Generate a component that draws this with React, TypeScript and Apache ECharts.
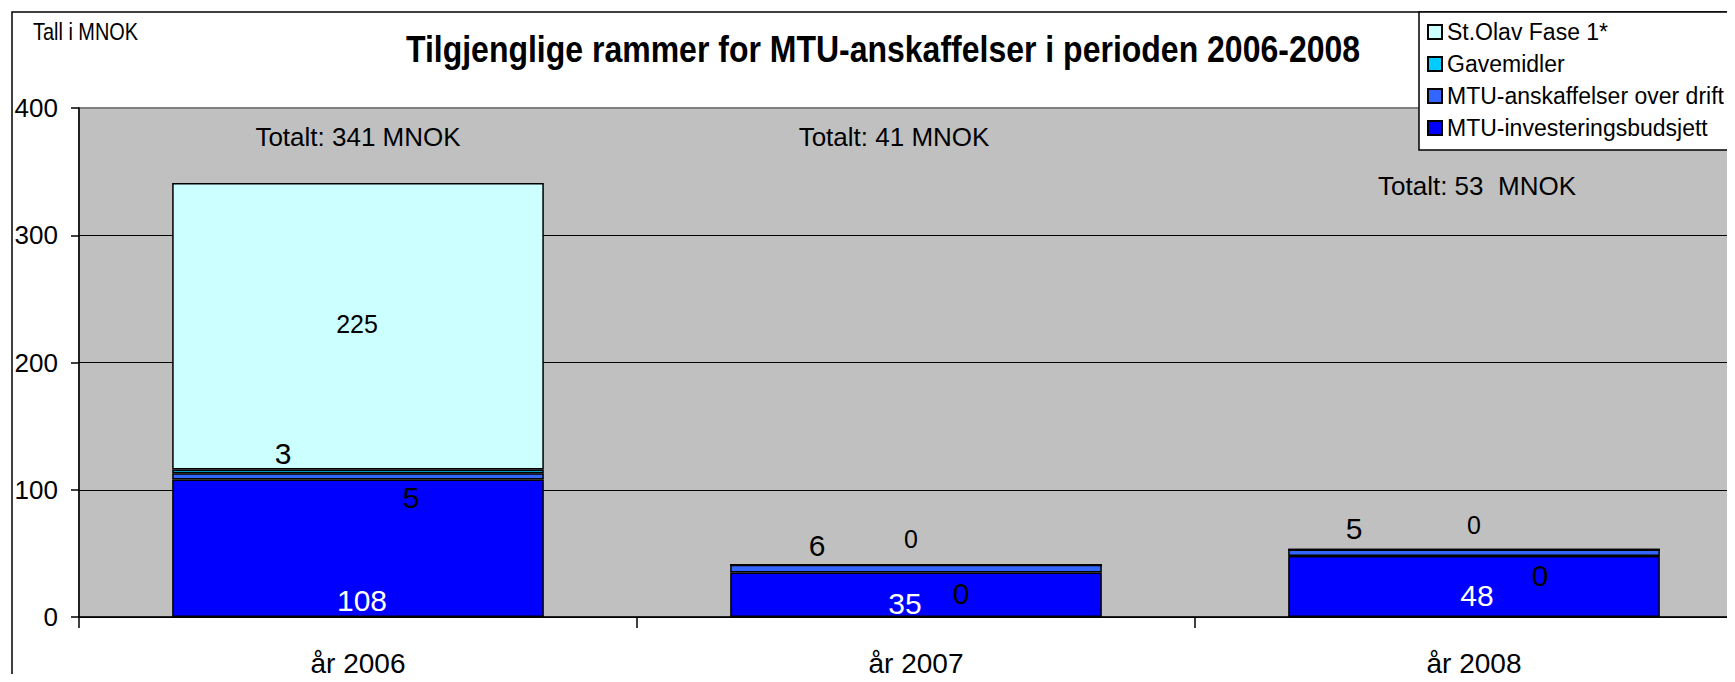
import React, { useEffect, useRef } from "react";
import * as echarts from "echarts";

const categories = ["år 2006", "år 2007", "år 2008"];
const investValues = [108, 35, 48];
const driftValues = [5, 6, 5];
const gaveValues = [3, 0, 0];
const stOlavValues = [225, 0, 0];
const yTicks = { min: 0, max: 400, interval: 100 };
const totalTexts = ["Totalt: 341 MNOK", "Totalt: 41 MNOK", "Totalt: 53  MNOK"];
const titleText = "Tilgjenglige rammer for MTU-anskaffelser i perioden 2006-2008";
const unitText = "Tall i MNOK";
const seriesNames = [
  "MTU-investeringsbudsjett",
  "MTU-anskaffelser over drift",
  "Gavemidler",
  "St.Olav Fase 1*",
];

// label offsets (layout only)
const investOffsets = [[4, 52], [-11, 9], [3, 9]];
const driftOffsets = [[53, 21], [-99, -23], [-120, -24]];
const gaveOffsets = [[-75, -18], [45, 29], [66, 26]];
const stOlavOffsets = [[-1, -2], [-5, -26], [0, -25]];

const SANS = "'Liberation Sans', Arial, sans-serif";

function mkData(values: number[], offsets: number[][], fontSize: number, color: string) {
  return values.map((v, i) => ({
    value: v,
    label: {
      show: true,
      position: "inside",
      offset: offsets[i],
      fontSize,
      color,
      fontFamily: SANS,
    },
  }));
}

export default function App() {
  const ref = useRef<HTMLDivElement>(null);
  useEffect(() => {
    if (!ref.current) return;
    const chart = echarts.init(ref.current, null, { renderer: "svg" });
    const border = { borderColor: "#000", borderWidth: 1.5 };
    const totalStyle = { fontFamily: SANS, fontSize: 26, fill: "#000", align: "center", verticalAlign: "middle" };
    chart.setOption({
      animation: false,
      backgroundColor: "#fff",
      legend: {
        orient: "vertical",
        left: 1419,
        top: 12,
        data: [seriesNames[3], seriesNames[2], seriesNames[1], seriesNames[0]],
        icon: "rect",
        itemWidth: 14,
        itemHeight: 14,
        itemGap: 4,
        padding: [6, 60, 8, 8],
        backgroundColor: "#fff",
        borderColor: "#000",
        borderWidth: 1.5,
        borderRadius: 0,
        textStyle: { fontFamily: SANS, fontSize: 23, color: "#000", lineHeight: 28 },
      },
      grid: {
        left: 79,
        top: 108,
        width: 1674,
        height: 509,
        show: true,
        backgroundColor: "#C0C0C0",
        borderColor: "#808080",
        borderWidth: 2,
      },
      xAxis: {
        type: "category",
        data: categories,
        axisLine: { lineStyle: { color: "#000", width: 1.5 } },
        axisTick: { show: true, length: 11, lineStyle: { color: "#000", width: 1.5 } },
        axisLabel: { fontFamily: SANS, fontSize: 28, color: "#000", margin: 32 },
      },
      yAxis: {
        type: "value",
        min: yTicks.min,
        max: yTicks.max,
        interval: yTicks.interval,
        axisLine: { show: true, lineStyle: { color: "#000", width: 1.5 } },
        axisTick: { show: true, length: 8, lineStyle: { color: "#000", width: 1.5 } },
        axisLabel: { fontFamily: SANS, fontSize: 26, color: "#000", margin: 21 },
        splitLine: { show: true, showMaxLine: false, lineStyle: { color: "#000", width: 1.2 } },
      },
      graphic: [
        {
          type: "rect",
          shape: { x: 12, y: 12, width: 1900, height: 900 },
          style: { fill: "none", stroke: "#000", lineWidth: 1.5 },
          z: -1,
        },
        {
          type: "text",
          x: 33,
          y: 32,
          scaleX: 0.83,
          style: { text: unitText, fontFamily: SANS, fontSize: 24, fill: "#000", verticalAlign: "middle" },
        },
        {
          type: "text",
          x: 883,
          y: 49,
          scaleX: 0.865,
          style: {
            text: titleText,
            fontFamily: SANS,
            fontWeight: "bold",
            fontSize: 37,
            fill: "#000",
            align: "center",
            verticalAlign: "middle",
          },
        },
        { type: "text", x: 358, y: 137, style: { text: totalTexts[0], ...totalStyle } },
        { type: "text", x: 894, y: 137, style: { text: totalTexts[1], ...totalStyle } },
        { type: "text", x: 1477, y: 186, style: { text: totalTexts[2], ...totalStyle } },
      ],
      series: [
        {
          name: seriesNames[0],
          type: "bar",
          stack: "total",
          barCategoryGap: "33.4%",
          itemStyle: { color: "#0000FF", ...border },
          data: mkData(investValues, investOffsets, 30, "#fff"),
        },
        {
          name: seriesNames[1],
          type: "bar",
          stack: "total",
          itemStyle: { color: "#3366FF", ...border },
          data: mkData(driftValues, driftOffsets, 30, "#000"),
        },
        {
          name: seriesNames[2],
          type: "bar",
          stack: "total",
          itemStyle: { color: "#00CCFF", ...border },
          data: mkData(gaveValues, gaveOffsets, 30, "#000"),
        },
        {
          name: seriesNames[3],
          type: "bar",
          stack: "total",
          itemStyle: { color: "#CCFFFF", ...border },
          data: mkData(stOlavValues, stOlavOffsets, 25, "#000"),
        },
      ],
    });
    return () => chart.dispose();
  }, []);
  return (
    <div style={{ width: 1735, height: 682, margin: -8, overflow: "hidden" }}>
      <div ref={ref} style={{ width: 1770, height: 682 }} />
    </div>
  );
}
